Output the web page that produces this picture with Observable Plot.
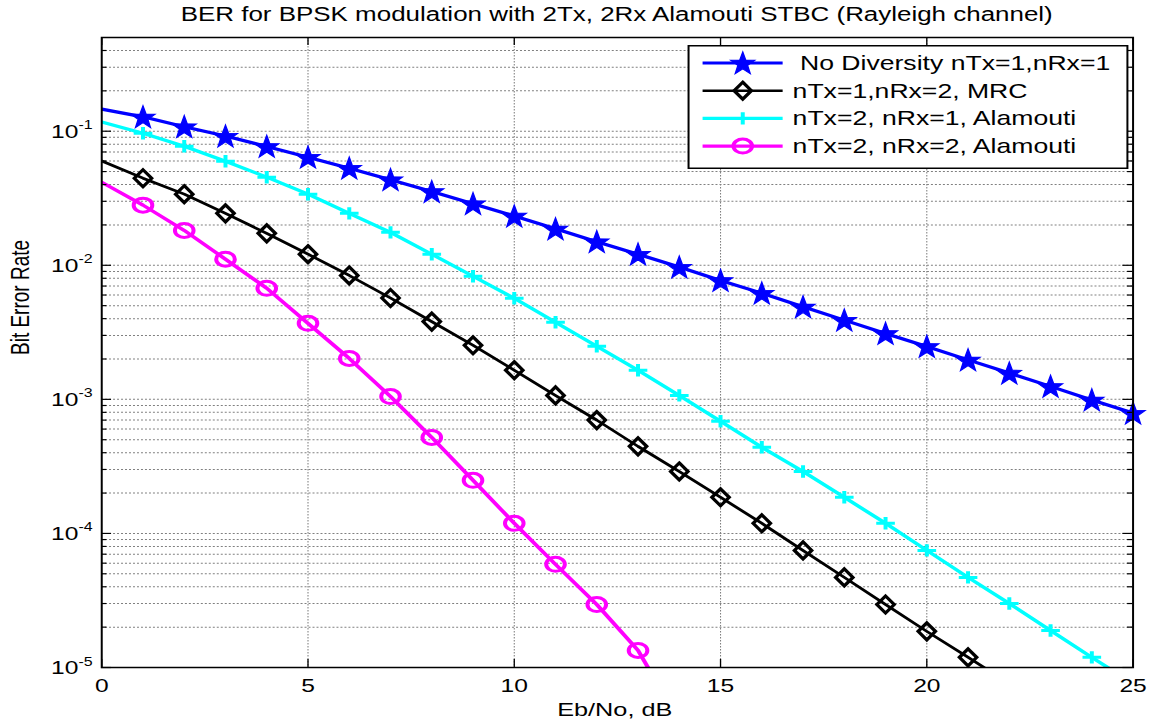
<!DOCTYPE html>
<html><head><meta charset="utf-8">
<script src="https://cdn.jsdelivr.net/npm/d3@7"></script>
<script src="https://cdn.jsdelivr.net/npm/@observablehq/plot@0.6"></script>
<style>
body{margin:0;background:#fff;overflow:hidden;}
#wrap{position:relative;width:870px;height:723px;transform:scaleX(1.32989);transform-origin:0 0;font-family:"Liberation Sans",Arial,Helvetica,sans-serif;color:#000;}
#title{height:28px;line-height:28px;font-size:19.5px;text-align:center;margin-left:76px;width:775.5px;white-space:nowrap;}
#legend{position:absolute;left:516.5px;top:45px;}
#legend svg{display:block;}
</style></head><body>
<div id="wrap">
<div id="title">BER for BPSK modulation with 2Tx, 2Rx Alamouti STBC (Rayleigh channel)</div>
<div id="chart"></div>
<div id="legend"></div>
</div>
<script>
// ---- data ----
const ebNo = [0,1,2,3,4,5,6,7,8,9,10,11,12,13,14,15,16,17,18,19,20,21,22,23,24,25];
const berNoDiversity = [0.146,0.128,0.108,0.092,0.077,0.064,0.053,0.0435,0.0355,0.0288,0.0233,0.0187,0.0150,0.0121,0.0097,0.0077,0.0062,0.0049,0.0039,0.0031,0.00248,0.00197,0.00157,0.00125,0.00099,0.00079];
const berMRC = [0.0600,0.0446,0.0339,0.0244,0.0173,0.0121,0.0084,0.0057,0.0038,0.00253,0.00165,0.00107,0.00070,0.000446,0.000290,0.000186,0.000119,0.0000747,0.0000470,0.0000295,0.0000186,0.0000119,0.0000076];
const berAlamouti21 = [0.117,0.0966,0.0773,0.0597,0.0454,0.0339,0.0244,0.0176,0.0121,0.00828,0.00567,0.00376,0.00249,0.00165,0.00107,0.000686,0.000439,0.000290,0.000186,0.000119,0.0000747,0.0000470,0.0000300,0.0000189,0.0000119,0.0000076];
const berAlamouti22 = [0.0416,0.0281,0.0182,0.0111,0.00674,0.00369,0.00202,0.00105,0.000520,0.000249,0.000119,0.0000588,0.0000295,0.0000134,0.0000040];

const seriesNames = [" No Diversity nTx=1,nRx=1", "nTx=1,nRx=2, MRC", "nTx=2, nRx=1, Alamouti", "nTx=2, nRx=2, Alamouti"];
const seriesColors = ["#0000ff", "#000000", "#00ffff", "#ff00ff"];

const xTicks = [0,5,10,15,20,25];
const xGrid = [5,10,15,20];
const yDecades = [1e-5,1e-4,1e-3,1e-2,1e-1];
const yExponents = ["-5","-4","-3","-2","-1"];
const yDomain = [1e-5, 0.5];

const xLabel = "Eb/No, dB";
const yLabel = "Bit Error Rate";

// ---- marker shapes ----
const starSym = {draw(ctx){ const R=12, r=R*0.4, sx=0.8;
  for(let i=0;i<10;i++){ const a=-Math.PI/2+i*Math.PI/5, rad=i%2?r:R;
    const px=Math.cos(a)*rad*sx, py=Math.sin(a)*rad+1; if(i) ctx.lineTo(px,py); else ctx.moveTo(px,py);} ctx.closePath(); }};
const diamondSym = {draw(ctx){ const h=8.5, w=6.5; ctx.moveTo(0,-h); ctx.lineTo(w,0); ctx.lineTo(0,h); ctx.lineTo(-w,0); ctx.closePath(); }};
const plusSym = {draw(ctx){ const w=7, h=6.2; ctx.moveTo(-w,0); ctx.lineTo(w,0); ctx.moveTo(0,-h); ctx.lineTo(0,h); }};
const circleSym = {draw(ctx){ const r=7; ctx.moveTo(r,0); ctx.arc(0,0,r,0,2*Math.PI); ctx.closePath(); }};

const series = [
  {name: seriesNames[0], color: seriesColors[0], values: berNoDiversity, sym: starSym, fill: seriesColors[0], sw: 1, lw: 3.2},
  {name: seriesNames[1], color: seriesColors[1], values: berMRC, sym: diamondSym, fill: "none", sw: 2.8, lw: 2.6},
  {name: seriesNames[2], color: seriesColors[2], values: berAlamouti21, sym: plusSym, fill: "none", sw: 3, lw: 3.2},
  {name: seriesNames[3], color: seriesColors[3], values: berAlamouti22, sym: circleSym, fill: "none", sw: 3, lw: 3.2}
];
series.forEach(s => { s.rows = s.values.map((v,i) => ({x: ebNo[i], v})); });

const yGrid = [];
yDecades.forEach(d => { for (let k=1;k<=9;k++){ const v=k*d; if (v>yDomain[0]*1.001 && v<yDomain[1]*0.999) yGrid.push(v);} });
const yMinor = yGrid.filter(v => !yDecades.some(d => Math.abs(v/d-1)<1e-6));

const W = 870, H = 695, mL = 76, mR = 18.5, mT = 9, mB = 56;
const fw = W - mL - mR, fh = H - mT - mB;

const gridStyle = {stroke:"#808080", strokeWidth:1, strokeDasharray:"1.5,1.5"};
const marks = [
  Plot.ruleY(yGrid, {y: d=>d, ...gridStyle}),
  Plot.ruleX(xGrid, {x: d=>d, ...gridStyle, strokeWidth:0.8}),
];
series.forEach(s => {
  marks.push(Plot.line(s.rows, {x:"x", y:"v", stroke:s.color, strokeWidth:s.lw, clip:true}));
});
series.forEach(s => {
  marks.push(Plot.dot(s.rows.filter(r => r.x >= 1 && r.v >= yDomain[0]), {x:"x", y:"v", symbol:s.sym, r:5, fill:s.fill, stroke:s.color, strokeWidth:s.sw}));
});
marks.push(
  // inward ticks
  Plot.tickX(xTicks, {x:d=>d, insetTop: fh-8, stroke:"#000", strokeWidth:1}),
  Plot.tickX(xTicks, {x:d=>d, insetBottom: fh-8, stroke:"#000", strokeWidth:1}),
  Plot.tickY(yDecades, {y:d=>d, insetRight: fw-7.5, stroke:"#000", strokeWidth:1.2}),
  Plot.tickY(yDecades, {y:d=>d, insetLeft: fw-7.5, stroke:"#000", strokeWidth:1.2}),
  Plot.tickY(yMinor, {y:d=>d, insetRight: fw-4, stroke:"#000", strokeWidth:1.2}),
  Plot.tickY(yMinor, {y:d=>d, insetLeft: fw-4, stroke:"#000", strokeWidth:1.2}),
  Plot.frame({stroke:"#000", strokeWidth:1.5}),
  // tick labels
  Plot.text(xTicks, {x:d=>d, frameAnchor:"bottom", text:d=>String(d), lineAnchor:"bottom", dy:24, fontSize:18.5, fill:"#000"}),
  Plot.text(yDecades, {y:d=>d, frameAnchor:"left", text:()=>"10", textAnchor:"end", lineAnchor:"bottom", dx:-17.5, dy:6.5, fontSize:18.5, fill:"#000"}),
  Plot.text(yDecades, {y:d=>d, frameAnchor:"left", text:(d,i)=>yExponents[i], textAnchor:"start", lineAnchor:"bottom", dx:-17.5, dy:-2, fontSize:12, fill:"#000"}),
  // axis labels
  Plot.text([xLabel], {frameAnchor:"bottom", text:d=>d, lineAnchor:"bottom", dy:48, dx:-2, fontSize:19, fill:"#000"}),
  Plot.text([yLabel], {frameAnchor:"left", text:d=>d, rotate:-90, dx:-61, dy:2.5, fontSize:19, fill:"#000"})
);

const chart = Plot.plot({
  width: W, height: H,
  marginLeft: mL, marginRight: mR, marginTop: mT, marginBottom: mB,
  x: {domain:[0,25], axis:null},
  y: {type:"log", domain:yDomain, axis:null},
  style: {fontFamily:'"Liberation Sans", Arial, Helvetica, sans-serif', background:"white", overflow:"visible"},
  marks
});
document.getElementById("chart").appendChild(chart);

// ---- legend (inside the axes, as in the reference) ----
const LW = 331.5, LH = 124, rowY0 = 18, rowStep = 27.7;
const leg = d3.create("svg").attr("width", LW).attr("height", LH).style("overflow","visible");
leg.append("rect").attr("x",0.75).attr("y",0.75).attr("width",LW-1.5).attr("height",LH-1.5).attr("fill","#fff").attr("stroke","#000").attr("stroke-width",1.5);
series.forEach((s,i) => {
  const y = rowY0 + i*rowStep;
  const g = leg.append("g");
  g.append("line").attr("x1",11.3).attr("x2",71.5).attr("y1",y).attr("y2",y).attr("stroke",s.color).attr("stroke-width",s.lw);
  const p = d3.path(); s.sym.draw(p, 0);
  g.append("path").attr("d", p.toString()).attr("transform",`translate(41.5,${y})`).attr("fill",s.fill).attr("stroke",s.color).attr("stroke-width",s.sw);
  g.append("text").attr("x",79).attr("y",y).attr("dy","0.35em").attr("font-size",20).attr("font-family",'"Liberation Sans", Arial, sans-serif').style("white-space","pre").attr("fill","#000").text(s.name);
});
document.getElementById("legend").appendChild(leg.node());
</script>
</body></html>
